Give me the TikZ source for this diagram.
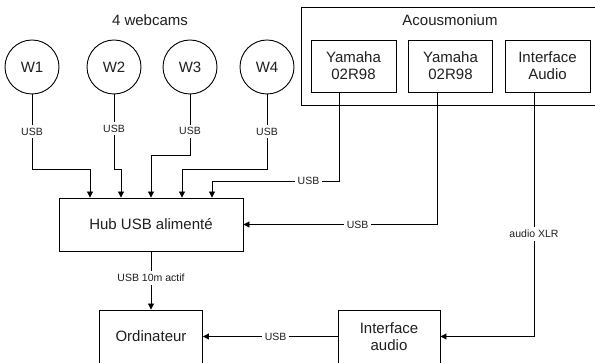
\documentclass[tikz,border=0pt]{standalone}
\usepackage{fontspec}
\setmainfont{Liberation Sans}
\usetikzlibrary{arrows.meta}
\begin{document}
\begin{tikzpicture}[x=1pt,y=-1pt,
  every node/.style={inner sep=0pt, text=black!88},
  box/.style={draw, line width=0.9pt, align=center, font=\fontsize{15}{17}\selectfont},
  cam/.style={draw, circle, line width=0.9pt, minimum size=54pt, font=\fontsize{15}{17}\selectfont},
  lbl/.style={fill=white, inner sep=3pt, font=\fontsize{10.5}{12}\selectfont},
  conn/.style={line width=0.9pt},
  arr/.style={conn, -{Triangle[length=6pt,width=6pt]}}]
\clip (0,0) rectangle (595,363);
\fill[white] (0,0) rectangle (595,363);
% titles
\node[font=\fontsize{15}{17}\selectfont] (title) at (150,20) {4 webcams};
% acousmonium
\node[draw, line width=0.9pt, minimum width=299pt, minimum height=98pt, anchor=north west] (acou) at (301,7) {};
\node[font=\fontsize{15}{17}\selectfont] (acoutitle) at (450,20) {Acousmonium};
\node[box, minimum width=85pt, minimum height=52pt] (y1) at (353.5,66) {Yamaha\\02R98};
\node[box, minimum width=84pt, minimum height=52pt] (y2) at (450.5,66) {Yamaha\\02R98};
\node[box, minimum width=85pt, minimum height=52pt] (ia) at (547.5,66) {Interface\\Audio};
% webcams
\node[cam] (w1) at (32,67) {W1};
\node[cam] (w2) at (114,67) {W2};
\node[cam] (w3) at (190,67) {W3};
\node[cam] (w4) at (267,67) {W4};
% hub etc
\node[box, minimum width=184pt, minimum height=53pt] (hub) at (151,224.5) {Hub USB alimenté};
\node[box, minimum width=103pt, minimum height=53pt] (ord) at (151,336.5) {Ordinateur};
\node[box, minimum width=102pt, minimum height=53pt] (ia2) at (389,336.5) {Interface\\audio};
% coordinates
\coordinate (h1) at ([xshift=-61pt]hub.north);
\coordinate (h2) at ([xshift=-30pt]hub.north);
\coordinate (h3) at (hub.north);
\coordinate (h4) at ([xshift=31pt]hub.north);
\coordinate (h5) at ([xshift=61pt]hub.north);
\coordinate (y1s) at ([xshift=-14.5pt]y1.south);
\coordinate (y2s) at ([xshift=-13.5pt]y2.south);
\coordinate (ias) at ([xshift=-13.5pt]ia.south);
% connectors
\draw[arr] (w1.south) -- node[lbl]{USB} (w1.south |- 0,169) -| (h1);
\draw[arr] (w2.south) -- node[lbl, pos=0.46]{USB} (w2.south |- 0,169) -| (h2);
\draw[arr] (w3.south) -- node[lbl, pos=0.61]{USB} (w3.south |- 0,155) -| (h3);
\draw[arr] (w4.south) -- node[lbl]{USB} (w4.south |- 0,169) -| (h4);
\draw[arr] (y1s) -- (y1s |- 0,181) -- node[lbl, pos=0.24]{USB} (h5 |- 0,181) -- (h5);
\draw[arr] (y2s) -- (y2s |- hub.east) -- node[lbl, pos=0.41]{USB} (hub.east);
\draw[arr] (ias) -- node[lbl, pos=0.58]{audio XLR} (ias |- ia2.east) -- (ia2.east);
\draw[arr] (hub.south) -- node[lbl, pos=0.46]{USB 10m actif} (ord.north);
\draw[arr] (ia2.west) -- node[lbl, pos=0.46]{USB} (ord.east);
\end{tikzpicture}
\end{document}
